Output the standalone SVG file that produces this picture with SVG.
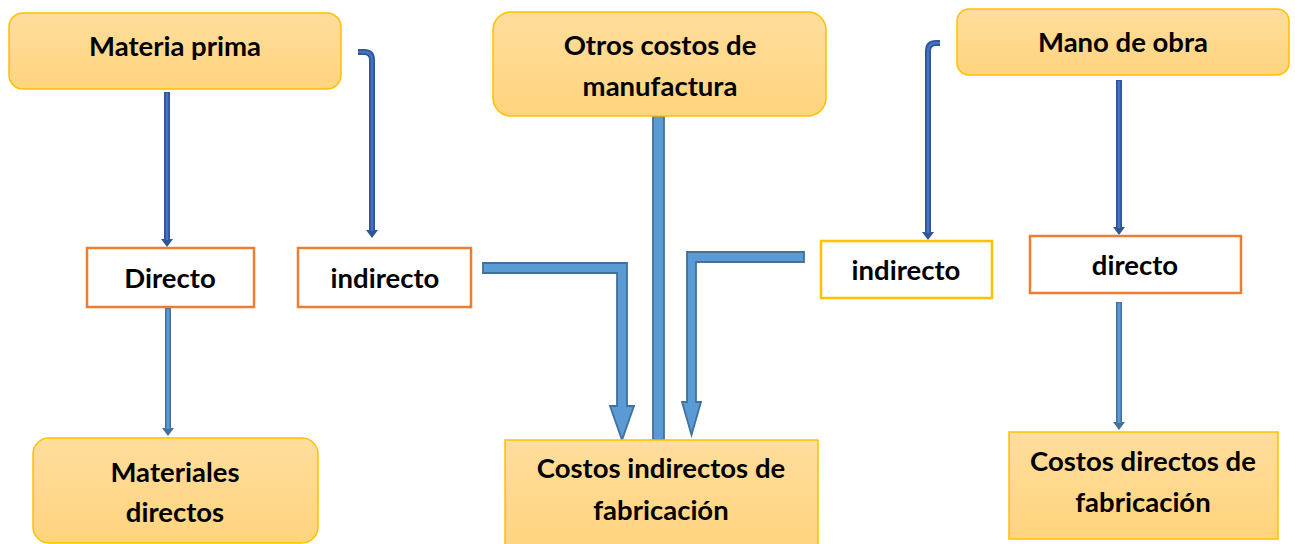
<svg xmlns="http://www.w3.org/2000/svg" width="1295" height="544" viewBox="0 0 1295 544">
<defs>
<linearGradient id="yg" x1="0" y1="0" x2="0" y2="1">
<stop offset="0" stop-color="#FFDD9C"/>
<stop offset="1" stop-color="#FFD47E"/>
</linearGradient>
<marker id="ah" viewBox="0 0 8 12" refX="1" refY="6" markerWidth="8" markerHeight="12" markerUnits="userSpaceOnUse" orient="auto">
<path d="M0,0 L8,6 L0,12 Z" fill="#2F5597"/>
</marker>
<marker id="ah2" viewBox="0 0 8 12" refX="1" refY="6" markerWidth="8" markerHeight="12" markerUnits="userSpaceOnUse" orient="auto">
<path d="M0,0 L8,6 L0,12 Z" fill="#41719C"/>
</marker>
</defs>
<style>
.yb{fill:url(#yg);stroke:#FFC000;stroke-width:1.5}
.ob{fill:#ffffff;stroke:#ED7D31;stroke-width:2.5}
.yw{fill:#ffffff;stroke:#FFC000;stroke-width:2.5}
.t{font-family:Lato,"Liberation Sans",sans-serif;font-weight:bold;font-size:27.5px;fill:#000;text-anchor:middle}
.d1{fill:none;stroke:#2F5597;stroke-width:6}
.d1i{fill:none;stroke:#4472C4;stroke-width:2.5}
.d2{fill:none;stroke:#41719C;stroke-width:6}
.d2i{fill:none;stroke:#5B9BD5;stroke-width:3}
.big{fill:#5B9BD5;stroke:#41719C;stroke-width:1.8;stroke-linejoin:miter}
</style>
<rect width="1295" height="544" fill="#ffffff"/>
<g id="connectors">
<path class="d1" d="M167,92 V240" marker-end="url(#ah)"/>
<path class="d1i" d="M167,93 V240"/>
<path class="d1" d="M358,52 H364 Q372,52 372,60 V231" marker-end="url(#ah)"/>
<path class="d1i" d="M358,52 H364 Q372,52 372,60 V231"/>
<path class="d1" d="M940,43 H936 Q928,43 928,51 V233" marker-end="url(#ah)"/>
<path class="d1i" d="M940,43 H936 Q928,43 928,51 V233"/>
<path class="d1" d="M1119,80 V228" marker-end="url(#ah)"/>
<path class="d1i" d="M1119,81 V228"/>
<path class="d2" d="M168,308 V429" marker-end="url(#ah2)"/>
<path class="d2i" d="M168,309 V429"/>
<path class="d2" d="M1119,302 V423" marker-end="url(#ah2)"/>
<path class="d2i" d="M1119,303 V423"/>
<polygon class="big" points="483,263 627,263 627,406 634,406 622,440 610,406 617,406 617,273 483,273"/>
<polygon class="big" points="804,252 687,252 687,402 682,402 691.5,435 701,402 696,402 696,262 804,262"/>
<rect class="big" x="653" y="116" width="11" height="324"/>
</g>
<g id="materia-prima">
<rect class="yb" x="9" y="13" width="332" height="76" rx="14"/>
<text class="t" x="175" y="56">Materia prima</text>
</g>
<g id="directo-mp">
<rect class="ob" x="87" y="248" width="167" height="59"/>
<text class="t" x="170" y="288">Directo</text>
</g>
<g id="indirecto-mp">
<rect class="ob" x="298" y="248" width="173" height="59"/>
<text class="t" x="385" y="288">indirecto</text>
</g>
<g id="materiales-directos">
<rect class="yb" x="33" y="438" width="285" height="105" rx="16"/>
<text class="t" x="175" y="482">Materiales</text>
<text class="t" x="175" y="522">directos</text>
</g>
<g id="otros-costos">
<rect class="yb" x="493" y="12" width="333" height="104" rx="18"/>
<text class="t" x="660" y="55">Otros costos de</text>
<text class="t" x="660" y="96">manufactura</text>
</g>
<g id="costos-indirectos">
<rect class="yb" x="505" y="440" width="313" height="110"/>
<text class="t" x="661" y="478">Costos indirectos de</text>
<text class="t" x="661" y="520">fabricación</text>
</g>
<g id="mano-de-obra">
<rect class="yb" x="957" y="9" width="332" height="66" rx="12"/>
<text class="t" x="1123" y="52">Mano de obra</text>
</g>
<g id="indirecto-mo">
<rect class="yw" x="821" y="241" width="171" height="57"/>
<text class="t" x="906" y="280">indirecto</text>
</g>
<g id="directo-mo">
<rect class="ob" x="1030" y="236" width="211" height="57"/>
<text class="t" x="1135" y="275">directo</text>
</g>
<g id="costos-directos">
<rect class="yb" x="1009" y="432" width="269" height="107"/>
<text class="t" x="1143" y="471">Costos directos de</text>
<text class="t" x="1143" y="512">fabricación</text>
</g>
</svg>
